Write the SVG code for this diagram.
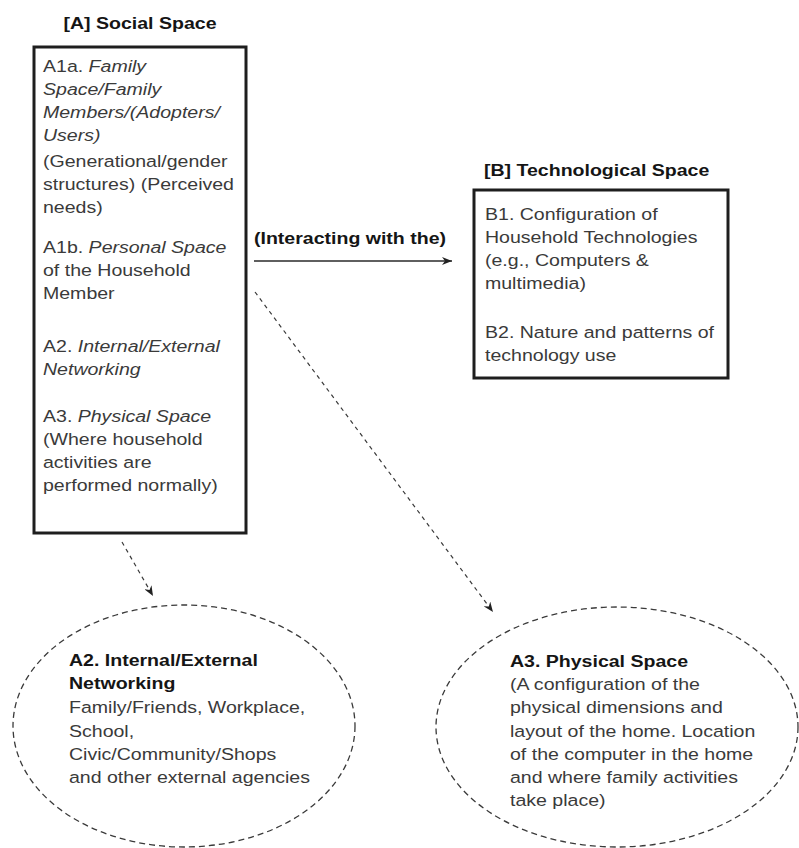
<svg xmlns="http://www.w3.org/2000/svg" width="799" height="848" viewBox="0 0 799 848">
<style>
  .t { font-family: "Liberation Sans", Arial, sans-serif; font-size: 17px; fill: #3a3a3a; }
  .b { font-family: "Liberation Sans", Arial, sans-serif; font-size: 17px; font-weight: bold; fill: #151515; }
  .i { font-style: italic; }
  .box { fill: #ffffff; stroke: #1e1e1e; stroke-width: 3; }
  .ell { fill: none; stroke: #3a3a3a; stroke-width: 1.3; stroke-dasharray: 6 4; }
  .solid { fill: none; stroke: #2a2a2a; stroke-width: 1.5; }
  .dash { fill: none; stroke: #3a3a3a; stroke-width: 1.2; stroke-dasharray: 4 4; }
</style>
<defs>
  <marker id="ah" viewBox="0 0 10 8" refX="10" refY="4" markerWidth="10" markerHeight="8" markerUnits="userSpaceOnUse" orient="auto">
    <path d="M0,0 L10,4 L0,8 L3,4 Z" fill="#222"/>
  </marker>
</defs>
<rect width="799" height="848" fill="#ffffff"/>

<g id="social-space">
  <text class="b" text-anchor="middle" transform="translate(140,0) scale(1.15,1)"><tspan x="0" y="29">[A] Social Space</tspan></text>
  <rect class="box" x="34" y="47" width="212" height="486"/>
  <text class="t" transform="translate(43,0) scale(1.15,1)">
    <tspan x="0" y="72">A1a. <tspan class="i">Family</tspan></tspan>
    <tspan x="0" y="95" class="i">Space/Family</tspan>
    <tspan x="0" y="118" class="i">Members/(Adopters/</tspan>
    <tspan x="0" y="141" class="i">Users)</tspan>
    <tspan x="0" y="167">(Generational/gender</tspan>
    <tspan x="0" y="190">structures) (Perceived</tspan>
    <tspan x="0" y="213">needs)</tspan>
    <tspan x="0" y="253">A1b. <tspan class="i">Personal Space</tspan></tspan>
    <tspan x="0" y="276">of the Household</tspan>
    <tspan x="0" y="299">Member</tspan>
    <tspan x="0" y="352">A2. <tspan class="i">Internal/External</tspan></tspan>
    <tspan x="0" y="375" class="i">Networking</tspan>
    <tspan x="0" y="422">A3. <tspan class="i">Physical Space</tspan></tspan>
    <tspan x="0" y="445">(Where household</tspan>
    <tspan x="0" y="468">activities are</tspan>
    <tspan x="0" y="491">performed normally)</tspan>
  </text>
</g>

<g id="technological-space">
  <text class="b" transform="translate(484,0) scale(1.15,1)"><tspan x="0" y="176">[B] Technological Space</tspan></text>
  <rect class="box" x="474" y="190" width="254" height="188"/>
  <text class="t" transform="translate(485,0) scale(1.15,1)">
    <tspan x="0" y="220">B1. Configuration of</tspan>
    <tspan x="0" y="243">Household Technologies</tspan>
    <tspan x="0" y="266">(e.g., Computers &amp;</tspan>
    <tspan x="0" y="289">multimedia)</tspan>
    <tspan x="0" y="338">B2. Nature and patterns of</tspan>
    <tspan x="0" y="361">technology use</tspan>
  </text>
</g>

<g id="networking">
  <ellipse class="ell" cx="184" cy="726" rx="171" ry="121"/>
  <text class="b" transform="translate(69,0) scale(1.15,1)">
    <tspan x="0" y="666">A2. Internal/External</tspan>
    <tspan x="0" y="689">Networking</tspan>
  </text>
  <text class="t" transform="translate(69,0) scale(1.15,1)">
    <tspan x="0" y="713">Family/Friends, Workplace,</tspan>
    <tspan x="0" y="737">School,</tspan>
    <tspan x="0" y="760">Civic/Community/Shops</tspan>
    <tspan x="0" y="783">and other external agencies</tspan>
  </text>
</g>

<g id="physical-space">
  <ellipse class="ell" cx="617" cy="727" rx="181" ry="120"/>
  <text class="b" transform="translate(510,0) scale(1.15,1)">
    <tspan x="0" y="667">A3. Physical Space</tspan>
  </text>
  <text class="t" transform="translate(510,0) scale(1.15,1)">
    <tspan x="0" y="690">(A configuration of the</tspan>
    <tspan x="0" y="713">physical dimensions and</tspan>
    <tspan x="0" y="737">layout of the home. Location</tspan>
    <tspan x="0" y="760">of the computer in the home</tspan>
    <tspan x="0" y="783">and where family activities</tspan>
    <tspan x="0" y="806">take place)</tspan>
  </text>
</g>

<g id="connectors">
  <text class="b" transform="translate(254,0) scale(1.15,1)"><tspan x="0" y="244">(Interacting with the)</tspan></text>
  <line class="solid" x1="254" y1="261" x2="452" y2="261" marker-end="url(#ah)"/>
  <line class="dash" x1="255" y1="292" x2="493" y2="612" marker-end="url(#ah)"/>
  <line class="dash" x1="122" y1="542" x2="153" y2="596" marker-end="url(#ah)"/>
</g>
</svg>
